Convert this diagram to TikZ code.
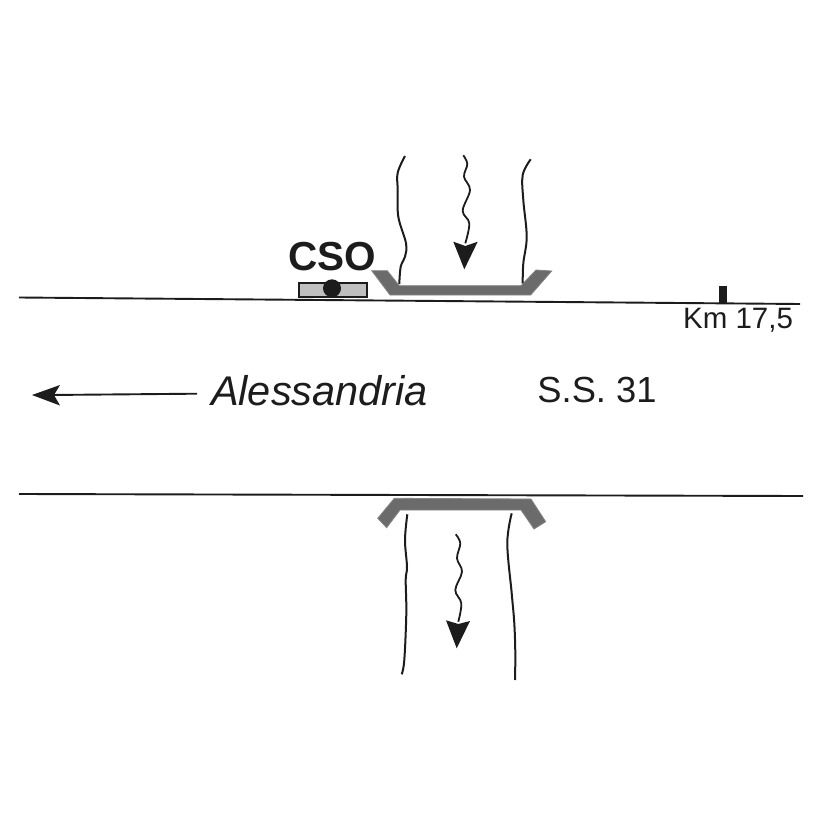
\documentclass[tikz,border=0pt]{standalone}
\usepackage{fontspec}
\setmainfont{Liberation Sans}
\definecolor{ink}{gray}{0.11}
\tikzset{
  road/.style={draw=ink,line width=1.9pt},
  bank/.style={draw=ink,line width=2pt,smooth,tension=0.6},
  flow/.style={draw=ink,line width=1.8pt,smooth,tension=0.6},
  head/.style={fill=ink,draw=none},
  trough/.style={fill=black!58,draw=black!48,line width=0.8pt,line join=miter},
  label/.style={inner sep=0pt,text=ink,anchor=center}
}
\begin{document}
\begin{tikzpicture}[x=1pt,y=-1pt]
\useasboundingbox (0,0) rectangle (826,826);
\fill[white] (0,0) rectangle (826,826);
% road edges
\draw[road] (19,297.5) -- (800,304);
\draw[road] (19,494) -- (803,496);
% upper trough and banks
\draw[trough] (371.7,270.7) -- (387.3,270.7) -- (399.3,285.7) -- (521,285.7) -- (536,270) -- (551.7,271) -- (530.7,295) -- (390,295) -- cycle;
\draw[bank] plot coordinates {(405,156) (397.7,172.7) (397.7,190) (398.3,216.7) (406,243.3) (405,256.7) (400.7,266.7) (399.3,284)};
\draw[bank] plot coordinates {(530.7,159.3) (522.7,175) (523.3,200) (526.7,236.7) (523.3,263.3) (522.7,283.3)};
\draw[flow] plot coordinates {(463.3,155.3) (467.3,164) (464,176.7) (470,190) (462.7,210.7) (469.3,223.3) (465.3,243.3)};
\fill[head] (464.3,269.3) -- (453.3,241.7) -- (465.3,246) -- (477.7,241.7) -- cycle;
% lower trough and banks
\draw[trough] (394.3,498.3) -- (531,499) -- (545.7,521.7) -- (534,529) -- (521,510) -- (400,510) -- (386.7,527.7) -- (377.7,518.3) -- cycle;
\draw[bank] plot coordinates {(407.3,514.3) (405,540) (407,566.7) (405.7,580) (406.3,613.3) (404.3,660) (401.7,674.3)};
\draw[bank] plot coordinates {(511.7,513.3) (507.3,543.3) (511.7,593.3) (514.3,623.3) (515.3,653.3) (515,680)};
\draw[flow] plot coordinates {(455.7,534.3) (460.3,543.3) (457,558.3) (462,571.7) (455.3,590) (461.3,603.3) (458.3,621.7)};
\fill[head] (456.7,648.3) -- (446,620.3) -- (458.3,624) -- (470,621) -- cycle;
% CSO marker
\draw[fill=black!25,draw=ink,line width=1.7pt] (298.7,282.7) rectangle (366.7,296.7);
\fill[ink] (332,288.3) circle[radius=9];
\node[label,font=\fontsize{40.5}{48}\selectfont\bfseries] (cso) at (332.5,257) {CSO};
% km mark
\fill[ink] (718.7,285.7) rectangle (727,303.3);
\node[label,font=\fontsize{29.5}{34}\selectfont] (km) at (738,320) {Km 17,5};
% direction
\coordinate (arrowstart) at (197,393.7);
\coordinate (arrowtip) at (50,395);
\draw[road] (arrowstart) -- (arrowtip);
\fill[head] (32,395) -- (60,385) -- (54,395) -- (60,405.5) -- cycle;
\node[label,font=\fontsize{41.5}{48}\selectfont\itshape] (city) at (319.5,391) {Alessandria};
\node[label,font=\fontsize{36.3}{43}\selectfont] (ss) at (597,390) {S.S. 31};
\end{tikzpicture}
\end{document}
